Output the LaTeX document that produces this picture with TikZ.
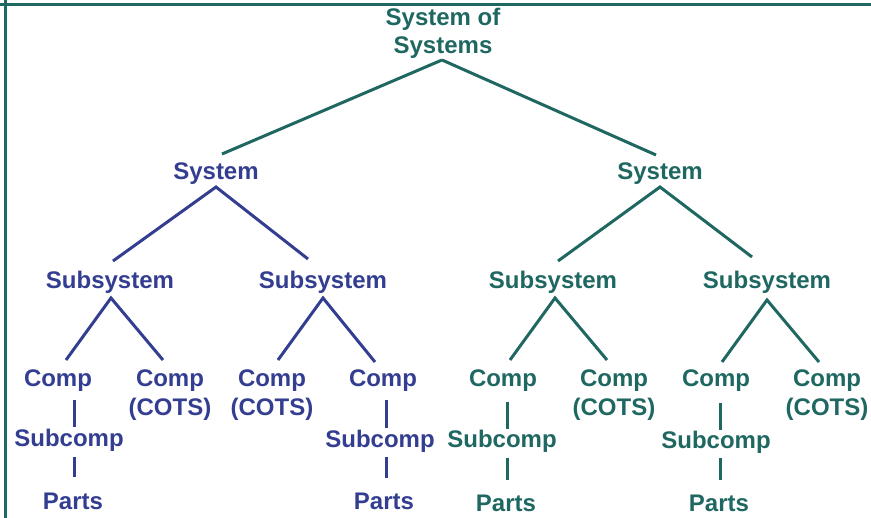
\documentclass[tikz,border=0pt]{standalone}
\usepackage{fontspec}
\setmainfont{Liberation Sans}
\usetikzlibrary{calc}
\definecolor{teal1}{RGB}{31,103,97}
\definecolor{blue1}{RGB}{52,62,145}
\newcommand{\twol}[2]{\begin{tabular}[t]{@{}c@{}}#1\\#2\end{tabular}}
\tikzset{
  lbl/.style={anchor=base, inner sep=0pt, font=\fontsize{24}{29}\selectfont\bfseries},
  tl/.style={lbl, text=teal1},
  bl/.style={lbl, text=blue1},
  tline/.style={draw=teal1, line width=3pt},
  bline/.style={draw=blue1, line width=3pt},
}
\begin{document}
\begin{tikzpicture}[x=1pt,y=-1pt]
\useasboundingbox (0,0) rectangle (871,518);
% frame lines
\coordinate (h0) at (0,5); \coordinate (h1) at (871,5);
\coordinate (v0) at (5,0); \coordinate (v1) at (5,518);
\draw[tline] (h0) -- (h1);
\draw[tline] (v0) -- (v1);

% nodes
\node[tl] (sos) at (443,26) {\fontsize{24}{28}\selectfont\twol{System of}{Systems}};
\node[bl] (sysL) at (216,180) {System};
\node[tl] (sysR) at (660,180) {System};
\node[bl] (sub1) at (110,289) {Subsystem};
\node[bl] (sub2) at (323,289) {Subsystem};
\node[tl] (sub3) at (553,289) {Subsystem};
\node[tl] (sub4) at (767,289) {Subsystem};
\node[bl] (comp1) at (58,387) {Comp};
\node[bl] (comp2) at (170,387) {\twol{Comp}{(COTS)}};
\node[bl] (comp3) at (272,387) {\twol{Comp}{(COTS)}};
\node[bl] (comp4) at (383,387) {Comp};
\node[tl] (comp5) at (503,387) {Comp};
\node[tl] (comp6) at (614,387) {\twol{Comp}{(COTS)}};
\node[tl] (comp7) at (716,387) {Comp};
\node[tl] (comp8) at (827,387) {\twol{Comp}{(COTS)}};
\node[bl] (subc1) at (69,447) {Subcomp};
\node[bl] (subc4) at (380,448) {Subcomp};
\node[tl] (subc5) at (502,448) {Subcomp};
\node[tl] (subc7) at (716,449) {Subcomp};
\node[bl] (parts1) at (73,510) {Parts};
\node[bl] (parts4) at (384,510) {Parts};
\node[tl] (parts5) at (506,512) {Parts};
\node[tl] (parts7) at (719,512) {Parts};

% connectors
\draw[tline] ($(sos.base)+(-1,34)$) -- ($(sysL.base)+(6,-26)$);
\draw[tline] ($(sos.base)+(-1,34)$) -- ($(sysR.base)+(-4,-25)$);

\draw[bline] ($(sub1.base)+(3,-28)$) -- ($(sysL.base)+(0,7)$) -- ($(sub2.base)+(-15,-30)$);
\draw[tline] ($(sub3.base)+(5,-28)$) -- ($(sysR.base)+(0,7)$) -- ($(sub4.base)+(-15,-32)$);

\draw[bline] ($(comp1.base)+(8,-27)$) -- ($(sub1.base)+(1,9)$) -- ($(comp2.base)+(-7,-27)$);
\draw[bline] ($(comp3.base)+(6,-27)$) -- ($(sub2.base)+(0,9)$) -- ($(comp4.base)+(-8,-25)$);
\draw[tline] ($(comp5.base)+(7,-27)$) -- ($(sub3.base)+(2,9)$) -- ($(comp6.base)+(-7,-27)$);
\draw[tline] ($(comp7.base)+(6,-25)$) -- ($(sub4.base)+(0,11)$) -- ($(comp8.base)+(-8,-25)$);

\draw[bline] ($(comp1.base)+(16,13)$) -- ($(subc1.base)+(5,-20)$);
\draw[bline] ($(subc1.base)+(5,10)$) -- ($(parts1.base)+(1,-33)$);
\draw[bline] ($(comp4.base)+(3,13)$) -- ($(subc4.base)+(6,-20)$);
\draw[bline] ($(subc4.base)+(6,9)$) -- ($(parts4.base)+(2,-32)$);
\draw[tline] ($(comp5.base)+(4,15)$) -- ($(subc5.base)+(5,-19)$);
\draw[tline] ($(subc5.base)+(5,10)$) -- ($(parts5.base)+(1,-32)$);
\draw[tline] ($(comp7.base)+(4,16)$) -- ($(subc7.base)+(4,-19)$);
\draw[tline] ($(subc7.base)+(4,9)$) -- ($(parts7.base)+(1,-32)$);
\end{tikzpicture}
\end{document}
